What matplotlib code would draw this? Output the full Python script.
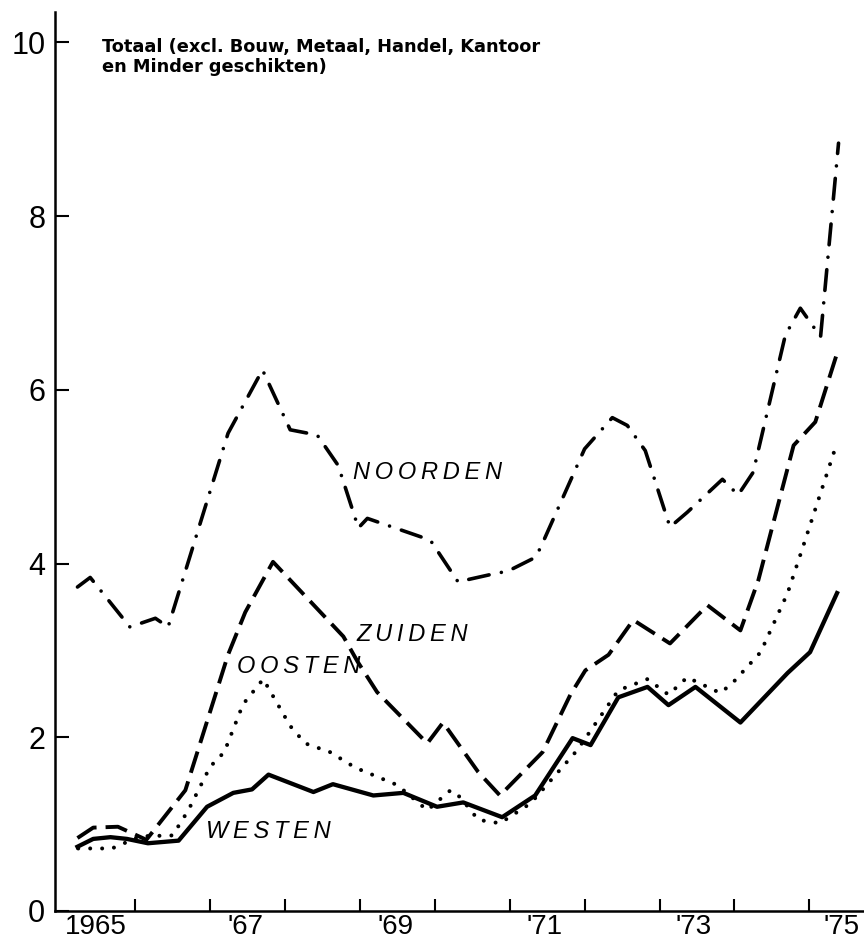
import matplotlib
matplotlib.use("Agg")
import matplotlib.pyplot as plt

plt.rcParams['lines.scale_dashes'] = False

# ---- data (x = decimal year, y = value) ----
noorden_x = [1965.23, 1965.40, 1965.93, 1966.27, 1966.44, 1967.24, 1967.70, 1968.07, 1968.43,
             1968.71, 1968.98, 1969.10, 1969.47, 1969.94, 1970.31, 1970.83, 1970.97, 1971.34,
             1971.41, 1972.00, 1972.37, 1972.57, 1972.81, 1973.14, 1973.37, 1973.84, 1974.05,
             1974.25, 1974.68, 1974.88, 1975.15, 1975.39]
noorden_y = [3.73, 3.84, 3.27, 3.37, 3.27, 5.50, 6.23, 5.54, 5.48,
             5.13, 4.41, 4.52, 4.41, 4.27, 3.79, 3.89, 3.91, 4.07,
             4.18, 5.32, 5.68, 5.59, 5.30, 4.42, 4.59, 4.97, 4.79,
             5.05, 6.63, 6.94, 6.61, 8.84]

zuiden_x = [1965.23, 1965.44, 1965.77, 1966.15, 1966.67, 1967.24, 1967.47, 1967.84, 1968.78,
            1968.97, 1969.23, 1969.90, 1970.11, 1970.58, 1970.87, 1971.44, 1971.81, 1972.01,
            1972.32, 1972.65, 1973.14, 1973.64, 1974.08, 1974.32, 1974.79, 1975.08, 1975.37]
zuiden_y = [0.84, 0.96, 0.97, 0.82, 1.39, 2.95, 3.44, 4.02, 3.16,
            2.87, 2.52, 1.93, 2.17, 1.60, 1.33, 1.83, 2.49, 2.77,
            2.95, 3.35, 3.08, 3.52, 3.23, 3.81, 5.36, 5.63, 6.42]

oosten_x = [1965.24, 1965.69, 1966.07, 1966.50, 1966.71, 1967.00, 1967.19, 1967.44, 1967.71,
            1968.07, 1968.27, 1968.60, 1968.94, 1969.50, 1969.90, 1970.21, 1970.34, 1970.58,
            1970.87, 1971.28, 1971.90, 1972.45, 1972.84, 1973.12, 1973.37, 1973.81, 1973.97,
            1974.35, 1974.71, 1974.88, 1975.37]
oosten_y = [0.72, 0.72, 0.86, 0.87, 1.16, 1.66, 1.83, 2.38, 2.67,
            2.13, 1.93, 1.83, 1.65, 1.45, 1.16, 1.39, 1.31, 1.05,
            1.01, 1.24, 1.85, 2.54, 2.67, 2.49, 2.69, 2.51, 2.62,
            2.98, 3.66, 4.10, 5.39]

westen_x = [1965.23, 1965.44, 1965.67, 1965.89, 1966.17, 1966.58, 1966.96, 1967.31, 1967.56,
            1967.78, 1968.38, 1968.64, 1969.18, 1969.58, 1970.03, 1970.38, 1970.90, 1971.34,
            1971.84, 1972.08, 1972.45, 1972.84, 1973.12, 1973.48, 1974.08, 1974.71, 1975.01,
            1975.37]
westen_y = [0.74, 0.83, 0.85, 0.83, 0.78, 0.81, 1.20, 1.36, 1.40,
            1.57, 1.37, 1.46, 1.33, 1.36, 1.20, 1.25, 1.08, 1.33,
            1.99, 1.91, 2.46, 2.58, 2.37, 2.58, 2.17, 2.74, 2.98,
            3.66]

year_ticks = list(range(1966, 1976))
label_pos = [1965.48, 1967.47, 1969.48, 1971.47, 1973.46, 1975.43]
label_txt = ["1965", "'67", "'69", "'71", "'73", "'75"]
y_ticks = [0, 2, 4, 6, 8, 10]

title = "Totaal (excl. Bouw, Metaal, Handel, Kantoor\nen Minder geschikten)"
region_names = ["NOORDEN", "ZUIDEN", "OOSTEN", "WESTEN"]
region_pos = [(1968.91, 5.05), (1968.96, 3.18), (1967.36, 2.81), (1966.94, 0.91)]

# ---- figure ----
fig = plt.figure(figsize=(8.64, 9.48), dpi=100)
ax = fig.add_axes([55/864, 37/948, 809/864, 899/948])

ax.plot(westen_x, westen_y, color='black', lw=3.1, solid_joinstyle='round')
ax.plot(oosten_x, oosten_y, color='black', lw=2.9, linestyle=(0, (0.01, 8.6)),
        dash_capstyle='round')
ax.plot(zuiden_x, zuiden_y, color='black', lw=2.8, linestyle=(0, (16, 6.5)),
        dash_capstyle='butt')
ax.plot(noorden_x, noorden_y, color='black', lw=2.6, linestyle=(0, (15, 9, 0.01, 9)),
        dash_capstyle='round')

ax.set_xlim(1964.93, 1975.73)
ax.set_ylim(0, 10.35)

for s in ['top', 'right']:
    ax.spines[s].set_visible(False)
for s in ['left', 'bottom']:
    ax.spines[s].set_linewidth(1.8)

tick_font = 'Liberation Sans'
ax.set_xticks(year_ticks)
ax.set_xticks(label_pos, labels=label_txt, minor=True)
ax.tick_params(axis='x', which='major', direction='in', length=9, width=1.5, labelbottom=False)
ax.tick_params(axis='x', which='minor', length=0, pad=2.5, labelsize=20)
ax.set_yticks(y_ticks, labels=[str(v) for v in y_ticks])
ax.tick_params(axis='y', direction='in', length=10, width=1.5, pad=7, labelsize=22)
for lab in ax.get_xticklabels(minor=True) + ax.get_yticklabels():
    lab.set_family(tick_font)

ax.text(1965.56, 10.05, title, fontsize=12.8, fontweight='bold', family='DejaVu Sans',
        va='top', ha='left', linespacing=1.15)

for name, (x, y) in zip(region_names, region_pos):
    ax.text(x, y, "\u2009".join(name), fontsize=17, fontstyle='italic',
            family=['Liberation Sans', 'DejaVu Sans'], va='center', ha='left')

fig.savefig('out.png', dpi=100, facecolor='white')
